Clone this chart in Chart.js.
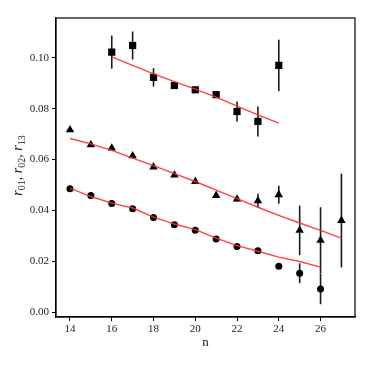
<!DOCTYPE html>
<html>
<head>
<meta charset="utf-8">
<script src="https://cdn.jsdelivr.net/npm/chart.js@4.4.1/dist/chart.umd.min.js"></script>
<style>
  html, body { margin: 0; padding: 0; background: #fff; }
  #wrap { width: 374px; height: 374px; }
</style>
</head>
<body>
<div id="wrap"><canvas id="c" width="374" height="374"></canvas></div>
<script>
// ---- data ----
const xTicks = [14, 16, 18, 20, 22, 24, 26];
const yTicks = [0, 0.02, 0.04, 0.06, 0.08, 0.10];

const nSquares = [16, 17, 18, 19, 20, 21, 22, 23, 24];
const r01 = [0.1022, 0.1048, 0.0923, 0.0891, 0.0874, 0.0855, 0.0789, 0.0750, 0.0970];
const r01Err = [0.0065, 0.0055, 0.0036, 0.0010, 0.0008, 0.0012, 0.0039, 0.0059, 0.0101];
const nFit01 = [16, 17, 18, 19, 20, 21, 22, 23, 24];
const fit01 = [0.1003, 0.0970, 0.0937, 0.0906, 0.0877, 0.0845, 0.0810, 0.0776, 0.0743];

const nTriangles = [14, 15, 16, 17, 18, 19, 20, 21, 22, 23, 24, 25, 26, 27];
const r02 = [0.0717, 0.0658, 0.0645, 0.0615, 0.0571, 0.0539, 0.0514, 0.0459, 0.0445, 0.0438, 0.0462, 0.0322, 0.0283, 0.0361];
const r02Err = [0.0008, 0.0008, 0.0006, 0.0006, 0.0006, 0.0006, 0.0007, 0.0008, 0.0010, 0.0028, 0.0035, 0.0097, 0.0130, 0.0184];
const nFit02 = [14, 15, 16, 17, 18, 19, 20, 21, 22, 23, 24, 25, 26, 27];
const fit02 = [0.0683, 0.0662, 0.0636, 0.0606, 0.0576, 0.0545, 0.0514, 0.0480, 0.0447, 0.0413, 0.0381, 0.0351, 0.0322, 0.0292];

const nCircles = [14, 15, 16, 17, 18, 19, 20, 21, 22, 23, 24, 25, 26];
const r13 = [0.0486, 0.0459, 0.0428, 0.0407, 0.0373, 0.0344, 0.0323, 0.0288, 0.0259, 0.0242, 0.0181, 0.0154, 0.0092];
const r13Err = [0.0004, 0.0004, 0.0004, 0.0004, 0.0004, 0.0004, 0.0004, 0.0004, 0.0004, 0.0004, 0.0010, 0.0039, 0.0060];
const nFit13 = [14, 15, 16, 17, 18, 19, 20, 21, 22, 23, 24, 25, 26];
const fit13 = [0.0488, 0.0455, 0.0429, 0.0410, 0.0374, 0.0347, 0.0325, 0.0292, 0.0262, 0.0240, 0.0217, 0.0200, 0.0178];

const xLabel = 'n';
// y label pieces: [text, kind] — 'i' italic, 's' subscript, 'n' normal
const yLabelParts = [['r', 'i'], ['01', 's'], [', ', 'n'], ['r', 'i'], ['02', 's'], [', ', 'n'], ['r', 'i'], ['13', 's']];

const pts = (xs, ys) => xs.map((x, i) => ({ x: x, y: ys[i] }));

const FONT = "'Liberation Serif', 'DejaVu Serif', serif";
const RED = 'rgba(255,45,45,0.9)';

const errorBars = {
  id: 'errorBars',
  beforeDatasetsDraw(chart) {
    const ctx = chart.ctx;
    const xs = chart.scales.x, ys = chart.scales.y;
    const sets = [[nSquares, r01, r01Err], [nTriangles, r02, r02Err], [nCircles, r13, r13Err]];
    ctx.save();
    ctx.strokeStyle = '#1a1a1a';
    ctx.lineWidth = 1.6;
    sets.forEach(([n, v, e]) => {
      n.forEach((x, i) => {
        const px = xs.getPixelForValue(x);
        ctx.beginPath();
        ctx.moveTo(px, ys.getPixelForValue(v[i] - e[i]));
        ctx.lineTo(px, ys.getPixelForValue(v[i] + e[i]));
        ctx.stroke();
      });
    });
    ctx.restore();
  }
};

const frame = {
  id: 'frame',
  afterDraw(chart) {
    const a = chart.chartArea, ctx = chart.ctx;
    ctx.save();
    ctx.strokeStyle = '#000';
    ctx.lineWidth = 1.2;
    ctx.strokeRect(a.left, a.top, a.right - a.left, a.bottom - a.top);
    ctx.restore();
  }
};

const yTitle = {
  id: 'yTitle',
  afterDraw(chart) {
    const a = chart.chartArea, ctx = chart.ctx;
    const fontFor = (k) => k === 'i' ? `italic 14px ${FONT}` : k === 's' ? `10px ${FONT}` : `14px ${FONT}`;
    ctx.save();
    let total = 0;
    yLabelParts.forEach(([t, k]) => { ctx.font = fontFor(k); total += ctx.measureText(t).width; });
    const cy = (a.top + a.bottom) / 2 - 2;
    ctx.translate(22, cy);
    ctx.rotate(-Math.PI / 2);
    ctx.fillStyle = '#222';
    ctx.textBaseline = 'alphabetic';
    ctx.textAlign = 'left';
    let x = -total / 2;
    yLabelParts.forEach(([t, k]) => {
      ctx.font = fontFor(k);
      ctx.fillText(t, x, k === 's' ? 3 : 0);
      x += ctx.measureText(t).width;
    });
    ctx.restore();
  }
};

const lineDs = (data) => ({
  type: 'line', data: data, borderColor: RED, borderWidth: 1.4,
  pointRadius: 0, fill: false, tension: 0, order: 0
});
const markDs = (data, style, r) => ({
  type: 'scatter', data: data, pointStyle: style, pointRadius: r,
  backgroundColor: '#000', borderColor: '#000', borderWidth: 0, order: 1
});

new Chart(document.getElementById('c'), {
  data: {
    datasets: [
      markDs(pts(nSquares, r01), 'rect', 5.1),
      markDs(pts(nTriangles, r02), 'triangle', 4.9),
      markDs(pts(nCircles, r13), 'circle', 3.5),
      lineDs(pts(nFit01, fit01)),
      lineDs(pts(nFit02, fit02)),
      lineDs(pts(nFit13, fit13))
    ]
  },
  options: {
    responsive: false,
    animation: false,
    devicePixelRatio: 1,
    layout: { padding: { left: 0, top: 18, right: 19, bottom: 22 } },
    plugins: { legend: { display: false }, tooltip: { enabled: false } },
    scales: {
      x: {
        type: 'linear', min: 13.33, max: 27.65,
        afterBuildTicks: (s) => { s.ticks = xTicks.map(v => ({ value: v })); },
        afterFit: (s) => { s.height = 35; },
        grid: { drawOnChartArea: false, drawTicks: true, tickLength: 4, color: '#000', lineWidth: 1 },
        border: { display: true, color: '#000', width: 1.2 },
        ticks: { color: '#222', font: { family: FONT, size: 11 }, padding: 2, maxRotation: 0,
                 callback: (v) => String(v) },
        title: { display: true, text: xLabel, color: '#222', font: { family: FONT, size: 13 }, padding: { top: 2, bottom: 2 } }
      },
      y: {
        type: 'linear', min: -0.0018, max: 0.1156,
        afterBuildTicks: (s) => { s.ticks = yTicks.map(v => ({ value: v })); },
        afterFit: (s) => { s.width = 56; },
        grid: { drawOnChartArea: false, drawTicks: true, tickLength: 4, color: '#000', lineWidth: 1 },
        border: { display: true, color: '#000', width: 1.2 },
        ticks: { color: '#222', font: { family: FONT, size: 11 }, padding: 3,
                 callback: (v) => v.toFixed(2) },
        title: { display: false }
      }
    }
  },
  plugins: [errorBars, frame, yTitle]
});
</script>
</body>
</html>
